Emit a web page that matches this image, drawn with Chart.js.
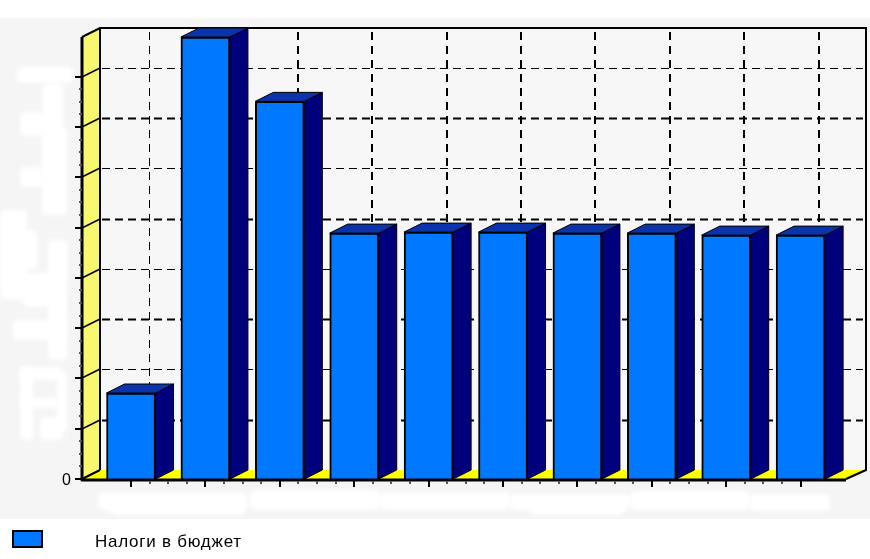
<!DOCTYPE html>
<html>
<head>
<meta charset="utf-8">
<title>Налоги в бюджет</title>
<script src="https://cdn.jsdelivr.net/npm/chart.js@4/dist/chart.umd.min.js"></script>
<style>
    body { margin: 0; background: #fff; font-family: "Liberation Sans", Arial, sans-serif; }
    #wrap { position: relative; width: 870px; height: 559px; overflow: hidden; }
    #legendBox { position: absolute; left: 12px; top: 530px; width: 27px; height: 14px; background: #0078ff; border: 2px solid #000; }
    #legendText { position: absolute; left: 95px; top: 532px; font-size: 17px; line-height: 20px; letter-spacing: 0.75px; color: #000; white-space: nowrap; }
</style>
</head>
<body>
<div id="wrap">
    <canvas id="taxChart" width="870" height="559"></canvas>
    <div id="legendBox"></div>
    <div id="legendText"></div>
</div>
<script>
const seriesName = "Налоги в бюджет";
// the period labels and value labels are blanked out in the source picture
const categories = [0, 1, 2, 3, 4, 5, 6, 7, 8, 9];
const taxValues = [171, 879, 751, 489, 491, 491, 489, 489, 485, 485];
const yTickLabels = ["0"];

const DEPTH_X = 18;
const DEPTH_Y = 9;
const BAR_FRONT = "#0078ff";
const BAR_SIDE = "#00007c";
const BAR_TOP = "#0a34ac";

// white smudges left where the original labels were painted out
const labelPatches = [
    [17, 67, 56, 16], [20, 112, 25, 24], [43, 83, 20, 50], [20, 167, 24, 20],
    [42, 127, 25, 88], [0, 210, 27, 90], [23, 230, 14, 40], [23, 273, 44, 34],
    [48, 240, 20, 40], [13, 320, 54, 20], [48, 300, 19, 60], [20, 367, 13, 73],
    [20, 367, 43, 13], [40, 417, 23, 23], [57, 372, 10, 60], [20, 398, 40, 10],
    [98, 492, 150, 18], [110, 505, 135, 10], [250, 490, 130, 20], [380, 492, 130, 18],
    [510, 494, 120, 16], [530, 505, 95, 10], [630, 491, 120, 19], [750, 494, 80, 17]
];

const chart3d = {
    id: "chart3d",
    beforeDraw(chart) {
        const { ctx, scales: { x, y }, chartArea: area } = chart;
        ctx.save();

        ctx.fillStyle = "#f5f5f5";
        ctx.fillRect(0, 18, 870, 501);
        ctx.fillStyle = "#fff";
        ctx.filter = "blur(2px)";
        labelPatches.forEach(p => {
            ctx.beginPath();
            ctx.roundRect(p[0], p[1], p[2], p[3], 5);
            ctx.fill();
        });
        ctx.filter = "none";

        const backLeft = area.left + DEPTH_X;
        const backTop = area.top - DEPTH_Y;
        const backBottom = area.bottom - DEPTH_Y;
        const backRight = area.right + DEPTH_X + 2;

        // back wall
        ctx.fillStyle = "#f7f7f7";
        ctx.fillRect(backLeft, backTop, backRight - backLeft, backBottom - backTop);

        // left wall
        ctx.fillStyle = "#f8f870";
        ctx.beginPath();
        ctx.moveTo(area.left, area.top);
        ctx.lineTo(backLeft, backTop);
        ctx.lineTo(backLeft, backBottom);
        ctx.lineTo(area.left, area.bottom);
        ctx.closePath();
        ctx.fill();

        // floor
        ctx.fillStyle = "#ffff00";
        ctx.beginPath();
        ctx.moveTo(area.left, area.bottom);
        ctx.lineTo(backLeft, backBottom);
        ctx.lineTo(backRight, backBottom);
        ctx.lineTo(area.right, area.bottom);
        ctx.closePath();
        ctx.fill();

        ctx.strokeStyle = "#000";

        // horizontal grid on the back wall, with the slanted piece on the left wall
        y.ticks.filter(t => t.value > 0 && t.value % 100 === 0).forEach((t, i) => {
            const py = Math.round(y.getPixelForValue(t.value));
            ctx.lineWidth = 1.5;
            ctx.setLineDash([]);
            ctx.beginPath();
            ctx.moveTo(area.left, py);
            ctx.lineTo(backLeft, py - DEPTH_Y);
            ctx.stroke();
            ctx.lineWidth = i % 2 ? 1 : 2;
            ctx.setLineDash([8, 5]);
            ctx.beginPath();
            ctx.moveTo(backLeft + 2, py - DEPTH_Y + 0.5);
            ctx.lineTo(backRight - 3, py - DEPTH_Y + 0.5);
            ctx.stroke();
        });

        // vertical grid on the back wall
        ctx.setLineDash([8, 6]);
        categories.forEach(c => {
            const px = Math.round(x.getPixelForValue(c)) + DEPTH_X;
            ctx.lineWidth = c < 2 ? 1 : 2;
            ctx.beginPath();
            ctx.moveTo(px + (c < 2 ? 0.5 : 0), backTop + 4);
            ctx.lineTo(px + (c < 2 ? 0.5 : 0), backBottom);
            ctx.stroke();
        });
        ctx.setLineDash([]);

        // wall frame
        ctx.lineWidth = 2;
        ctx.beginPath();
        ctx.moveTo(area.left, area.top);
        ctx.lineTo(backLeft, backTop);
        ctx.lineTo(backRight, backTop);
        ctx.lineTo(backRight, backBottom);
        ctx.lineTo(area.right, area.bottom);
        ctx.moveTo(backLeft, backTop);
        ctx.lineTo(backLeft, backBottom);
        ctx.moveTo(area.left, area.bottom);
        ctx.lineTo(backLeft, backBottom);
        ctx.stroke();

        ctx.restore();
    },
    afterDatasetsDraw(chart) {
        const { ctx, scales: { x, y }, chartArea: area } = chart;
        ctx.save();
        ctx.strokeStyle = "#000";
        ctx.lineWidth = 1;
        ctx.lineJoin = "round";

        chart.getDatasetMeta(0).data.forEach(bar => {
            const right = bar.x + bar.width / 2;
            const left = bar.x - bar.width / 2;
            const top = bar.y;
            const base = bar.base;

            ctx.fillStyle = BAR_SIDE;
            ctx.beginPath();
            ctx.moveTo(right, top);
            ctx.lineTo(right + DEPTH_X, top - DEPTH_Y);
            ctx.lineTo(right + DEPTH_X, base - DEPTH_Y);
            ctx.lineTo(right, base);
            ctx.closePath();
            ctx.fill();
            ctx.stroke();

            ctx.fillStyle = BAR_TOP;
            ctx.beginPath();
            ctx.moveTo(left, top);
            ctx.lineTo(left + DEPTH_X, top - DEPTH_Y);
            ctx.lineTo(right + DEPTH_X, top - DEPTH_Y);
            ctx.lineTo(right, top);
            ctx.closePath();
            ctx.fill();
            ctx.stroke();
        });

        // axis lines
        ctx.lineWidth = 3;
        ctx.beginPath();
        ctx.moveTo(area.left, area.top);
        ctx.lineTo(area.left, area.bottom + 1);
        ctx.lineTo(area.right, area.bottom + 1);
        ctx.stroke();

        // y ticks, long every 100 and short every 25
        ctx.lineWidth = 2;
        y.ticks.forEach(t => {
            const py = Math.round(y.getPixelForValue(t.value));
            const major = t.value % 100 === 0;
            ctx.strokeStyle = major ? "#000" : "#555";
            ctx.beginPath();
            ctx.moveTo(area.left, py);
            ctx.lineTo(area.left - (major ? 7 : 3), py);
            ctx.stroke();
        });

        // x ticks, long under each bar and short in between
        x.ticks.forEach(t => {
            const px = Math.round(x.getPixelForValue(t.value));
            const major = Number.isInteger(t.value);
            ctx.strokeStyle = major ? "#000" : "#555";
            ctx.beginPath();
            ctx.moveTo(px, area.bottom + 2);
            ctx.lineTo(px, area.bottom + (major ? 8 : 5));
            ctx.stroke();
        });
        ctx.restore();
    }
};

new Chart(document.getElementById("taxChart"), {
    type: "bar",
    data: {
        datasets: [{
            label: seriesName,
            data: categories.map((c, i) => ({ x: c, y: taxValues[i] })),
            backgroundColor: BAR_FRONT,
            borderColor: "#000",
            borderWidth: 2,
            barThickness: 49
        }]
    },
    plugins: [chart3d],
    options: {
        responsive: false,
        animation: false,
        layout: { padding: { top: 37, right: 24, left: 0, bottom: 0 } },
        plugins: { legend: { display: false }, tooltip: { enabled: false } },
        scales: {
            x: {
                type: "linear",
                offset: false,
                min: -0.659,
                max: 9.61,
                afterFit: scale => { scale.height = 80; },
                afterBuildTicks: scale => {
                    const ticks = [];
                    for (let v = categories[0]; v <= categories[categories.length - 1]; v += 0.25) ticks.push({ value: v });
                    scale.ticks = ticks;
                },
                grid: { display: false, drawTicks: false },
                border: { display: false },
                ticks: { display: false }
            },
            y: {
                min: 0,
                max: 879,
                afterFit: scale => { scale.width = 82; },
                afterBuildTicks: scale => {
                    scale.ticks = scale.ticks.filter(t => t.value <= 800);
                },
                grid: { display: false, drawTicks: false },
                border: { display: false },
                ticks: {
                    stepSize: 25,
                    autoSkip: false,
                    padding: 11,
                    labelOffset: 2,
                    color: "#000",
                    font: { family: "'Liberation Sans', Arial, sans-serif", size: 16 },
                    callback: v => (v === 0 ? yTickLabels[0] : "")
                }
            }
        }
    }
});

document.getElementById("legendText").textContent = seriesName;
</script>
</body>
</html>
